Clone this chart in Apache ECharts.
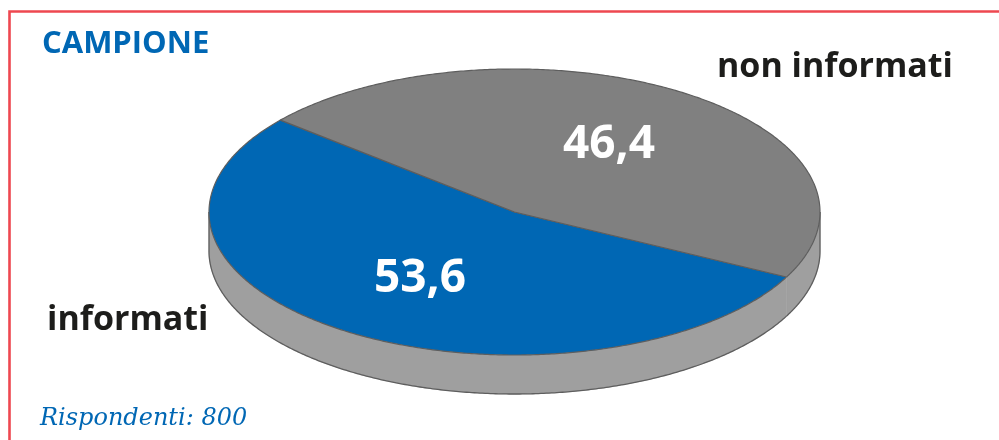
<!DOCTYPE html>
<html>
<head>
<meta charset="utf-8">
<script src="https://cdn.jsdelivr.net/npm/echarts@6/dist/echarts.min.js"></script>
<style>
html,body{margin:0;padding:0;background:#fff;}
#c{width:999px;height:440px;}
</style>
</head>
<body>
<div id="c"></div>
<script>
// ---- data ----
const categories = ['informati', 'non informati'];
const values = [53.6, 46.4];
const titleText = 'CAMPIONE';
const noteText = 'Rispondenti: 800';

// ---- styling / layout ----
const sliceColors = ['#0067b4', '#808080'];
const wallColor = '#9f9f9f';
const edgeColor = '#5e5e5e';
const CX = 514.5, CY = 212, RX = 305.5, RY = 143, DEPTH = 39, START = 140;
const LABEL_R = 0.56;
const catLabelPos = [
  {x: 47, y: 320, align: 'left'},
  {x: 953, y: 67, align: 'right'}
];

const total = values.reduce((a, b) => a + b, 0);
let cum = 0;
const seriesData = values.map((v, i) => {
  const d = {name: categories[i], value: [v, cum, i]};
  cum += v;
  return d;
});

function pt(deg, dy) {
  const r = deg * Math.PI / 180;
  return [CX + RX * Math.cos(r), CY - RY * Math.sin(r) + (dy || 0)];
}
function arc(from, to, dy) {
  const pts = [];
  const n = Math.max(2, Math.ceil(Math.abs(to - from) / 0.5));
  for (let k = 0; k <= n; k++) pts.push(pt(from + (to - from) * k / n, dy));
  return pts;
}

function renderItem(params, api) {
  const v = api.value(0), before = api.value(1), idx = api.value(2);
  const a0 = START + before / total * 360;
  const a1 = a0 + v / total * 360;
  const children = [];
  // side wall (front half only)
  for (let k = 0; k < 2; k++) {
    const lo = Math.max(a0, 180 + 360 * k), hi = Math.min(a1, 360 + 360 * k);
    if (hi > lo) {
      children.push({
        type: 'polygon',
        shape: {points: arc(lo, hi, 0).concat(arc(hi, lo, DEPTH))},
        style: {fill: wallColor, stroke: wallColor, lineWidth: 0.5}
      });
      children.push({
        type: 'polyline',
        shape: {points: arc(lo, hi, DEPTH)},
        style: {stroke: edgeColor, lineWidth: 1.3, fill: null}
      });
      if (Math.abs(lo - (180 + 360 * k)) < 1e-6) {
        const p = pt(lo, 0);
        children.push({type: 'line', shape: {x1: p[0], y1: p[1], x2: p[0], y2: p[1] + DEPTH},
          style: {stroke: edgeColor, lineWidth: 1.3}});
      }
      if (Math.abs(hi - (360 + 360 * k)) < 1e-6) {
        const p = pt(hi, 0);
        children.push({type: 'line', shape: {x1: p[0], y1: p[1], x2: p[0], y2: p[1] + DEPTH},
          style: {stroke: edgeColor, lineWidth: 1.3}});
      }
    }
  }
  // top face
  children.push({
    type: 'polygon',
    shape: {points: [[CX, CY]].concat(arc(a0, a1, 0))},
    style: {fill: sliceColors[idx], stroke: edgeColor, lineWidth: 1.2, lineJoin: 'round'}
  });
  // value label
  const mid = (a0 + a1) / 2;
  const r = mid * Math.PI / 180;
  children.push({
    type: 'text',
    z2: 10,
    style: {
      x: CX + LABEL_R * RX * Math.cos(r),
      y: CY - LABEL_R * RY * Math.sin(r),
      text: v.toFixed(1).replace('.', ','),
      fill: '#ffffff',
      font: 'bold 46px "Open Sans"',
      align: 'center',
      verticalAlign: 'middle'
    }
  });
  return {type: 'group', children: children};
}

const chart = echarts.init(document.getElementById('c'), null, {renderer: 'canvas'});
chart.setOption({
  animation: false,
  backgroundColor: '#ffffff',
  series: [{
    type: 'custom',
    coordinateSystem: 'none',
    renderItem: renderItem,
    data: seriesData
  }],
  graphic: [
    {type: 'polyline', shape: {points: [[9.5, 445], [9.5, 11.5], [1005, 11.5]]},
      style: {stroke: '#ee4850', lineWidth: 2.6, fill: null}},
    {type: 'text', style: {x: 42, y: 44, text: titleText, fill: '#0067b4',
      font: 'bold 31px "Open Sans"', align: 'left', verticalAlign: 'middle'}},
    {type: 'text', style: {x: 40, y: 419, text: noteText, fill: '#0067b4',
      font: 'italic 24px "DejaVu Serif"', align: 'left', verticalAlign: 'middle'}}
  ].concat(categories.map((c, i) => ({
    type: 'text',
    style: {x: catLabelPos[i].x, y: catLabelPos[i].y, text: c, fill: '#1d1d1b',
      font: 'bold 34px "Open Sans"', align: catLabelPos[i].align, verticalAlign: 'middle'}
  })))
});
</script>
</body>
</html>
